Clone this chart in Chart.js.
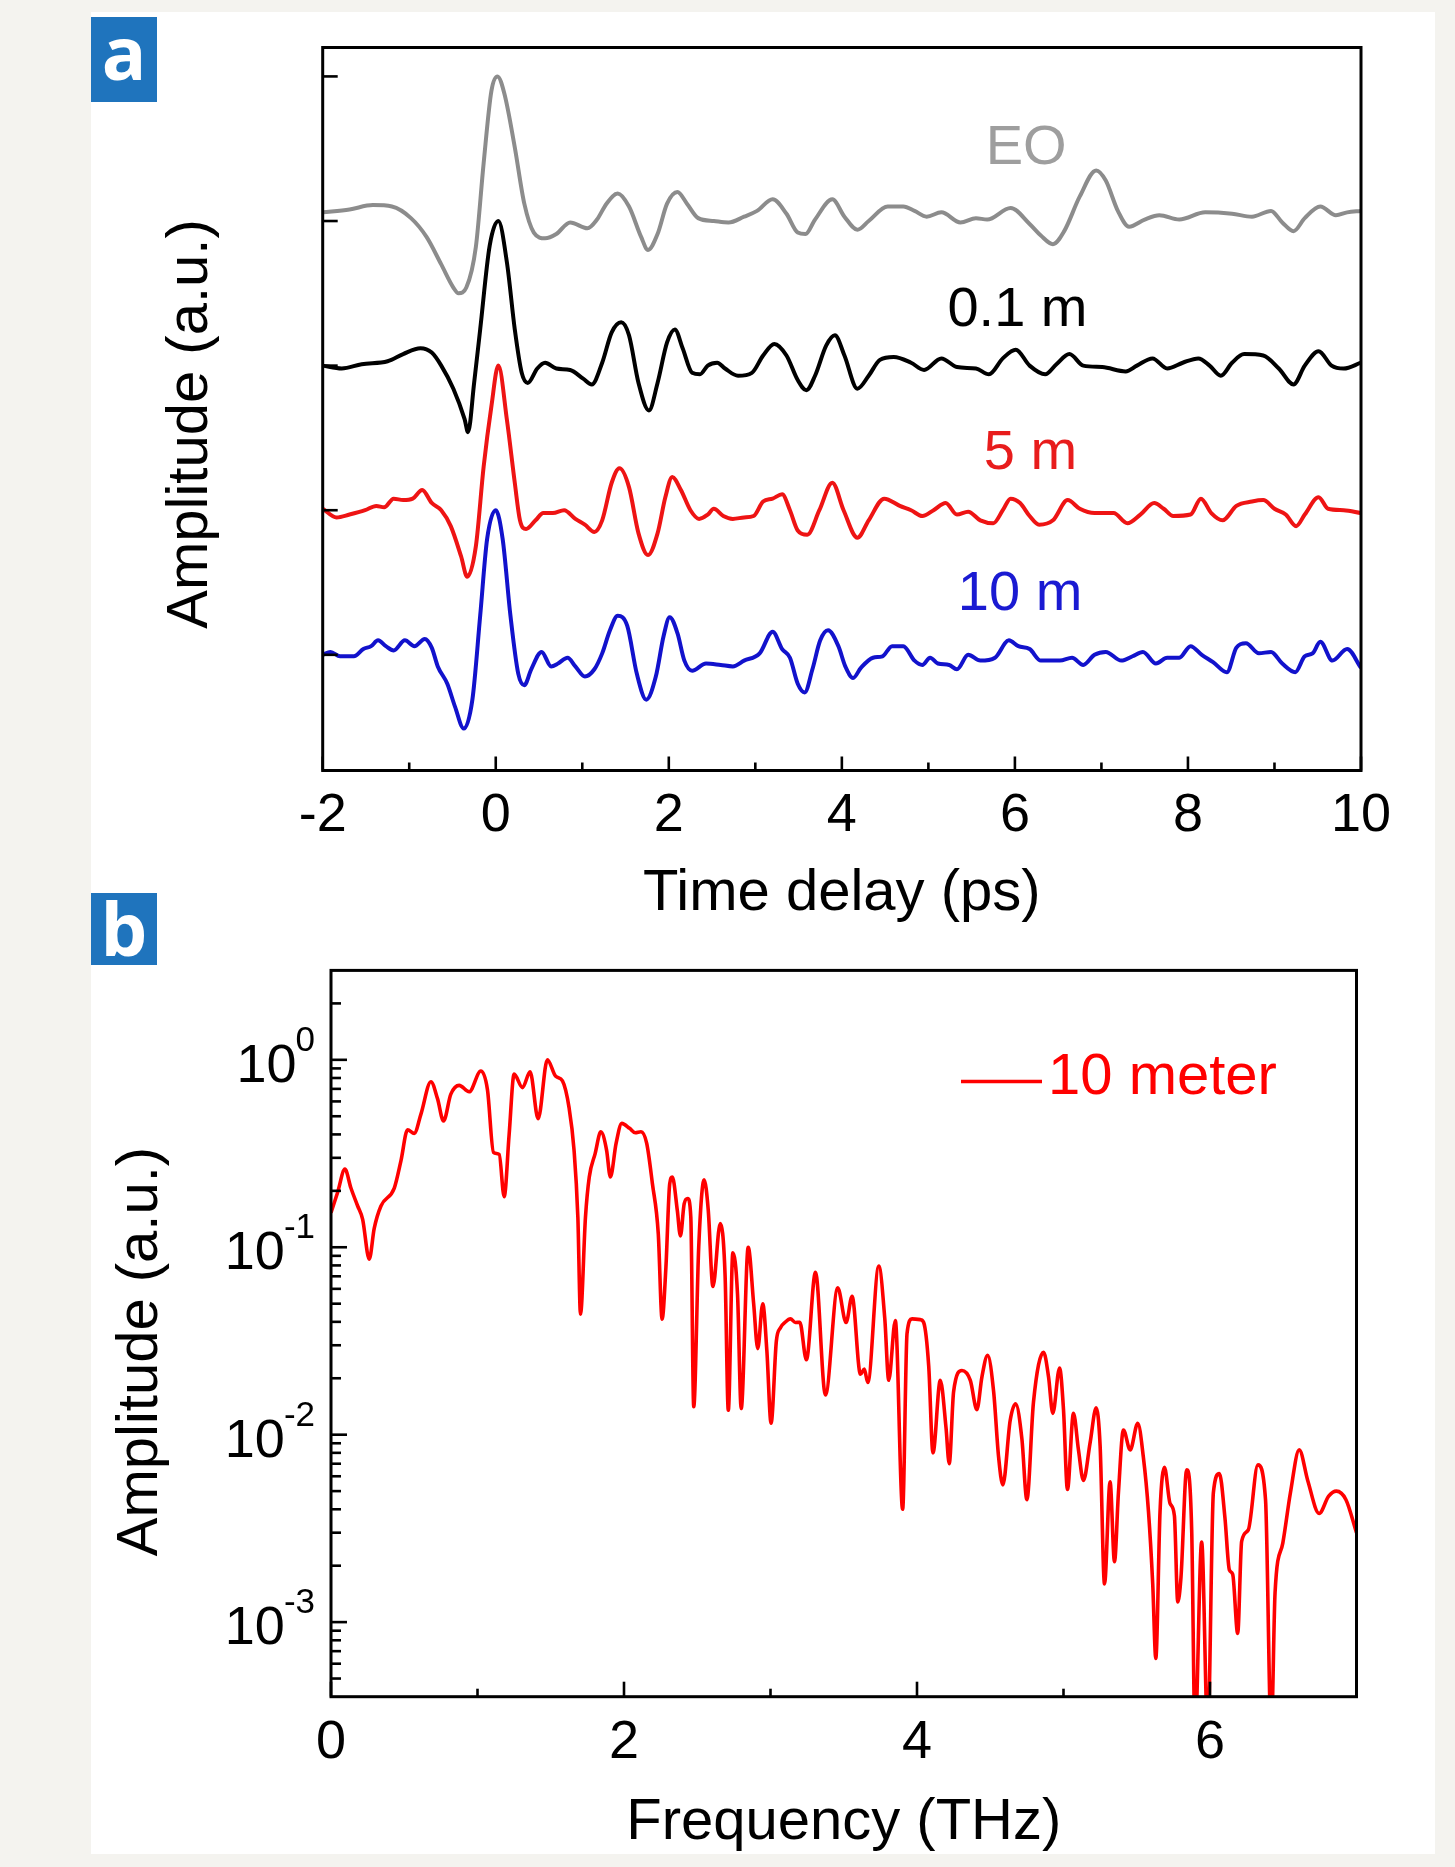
<!DOCTYPE html>
<html>
<head>
<meta charset="utf-8">
<script src="https://cdn.jsdelivr.net/npm/chart.js@4.4.1/dist/chart.umd.min.js"></script>
<style>
  html, body { margin: 0; padding: 0; background: #f4f3ef; }
  body { width: 1455px; height: 1867px; position: relative; overflow: hidden; }
  #sheet { position: absolute; left: 91px; top: 12px; width: 1344px; height: 1842px; background: #fff; }
  .tag { position: absolute; left: 0; width: 66px; background: #1f74bd; color: #fff;
         font-family: "Open Sans", "Liberation Sans", sans-serif; font-weight: bold; font-size: 74px; text-align: center; }
  #tagA { top: 5px; height: 85px; line-height: 70px; }
  #tagB { top: 881px; height: 72px; line-height: 70px; }
  #boxA { position: absolute; left: 0; top: 0; width: 1344px; height: 930px; }
  #boxB { position: absolute; left: 0; top: 860px; width: 1344px; height: 982px; }
</style>
</head>
<body>
<div id="sheet">
  <div id="boxA"><canvas id="pulses"></canvas></div>
  <div id="boxB"><canvas id="spectrum"></canvas></div>
  <div class="tag" id="tagA">a</div>
  <div class="tag" id="tagB">b</div>
</div>
<script>
Chart.defaults.font.family = '"Liberation Sans", Arial, sans-serif';
Chart.defaults.color = '#000';

// tick labels
const timeTicks = [-2, 0, 2, 4, 6, 8, 10];
const freqTicks = [0, 2, 4, 6];
const ampDecades = [0, -1, -2, -3];

// time traces (ps, amplitude relative to each trace's own baseline)
const eoTime = [-2.00,-1.69,-1.42,-1.20,-0.98,-0.80,-0.63,-0.49,-0.43,-0.34,-0.23,-0.14,-0.05,0.02,0.10,0.22,0.33,0.44,0.57,0.70,
  0.86,1.06,1.17,1.28,1.41,1.54,1.68,1.76,1.87,1.98,2.10,2.21,2.34,2.52,2.69,2.87,3.02,3.20,3.36,3.49,
  3.58,3.69,3.89,4.03,4.18,4.31,4.53,4.71,4.84,4.98,5.15,5.37,5.55,5.68,5.95,6.17,6.30,6.44,6.57,6.75,
  6.94,7.05,7.19,7.32,7.50,7.67,7.90,8.20,8.51,8.74,8.96,9.09,9.22,9.35,9.53,9.71,9.84,10.00];
const eoAmp = [0.06,0.08,0.11,0.10,0.02,-0.11,-0.30,-0.46,-0.50,-0.46,-0.18,0.40,0.90,1.00,0.88,0.51,0.12,-0.08,-0.12,-0.09,
  -0.01,-0.05,0.01,0.12,0.19,0.10,-0.11,-0.20,-0.09,0.12,0.20,0.12,0.02,0.00,-0.01,0.03,0.07,0.15,0.05,-0.08,
  -0.09,0.01,0.15,0.03,-0.06,0.00,0.10,0.10,0.07,0.03,0.06,-0.01,0.02,0.01,0.09,-0.02,-0.10,-0.16,-0.07,0.17,
  0.35,0.28,0.07,-0.04,0.01,0.04,0.01,0.06,0.05,0.03,0.07,-0.01,-0.07,0.02,0.10,0.04,0.06,0.07];

const m01Time = [-2.00,-1.78,-1.55,-1.25,-1.07,-0.87,-0.74,-0.63,-0.49,-0.36,-0.32,-0.25,-0.18,-0.07,0.03,0.13,0.22,0.30,0.37,0.48,
  0.57,0.70,0.86,1.01,1.11,1.23,1.34,1.45,1.54,1.65,1.77,1.87,1.98,2.07,2.16,2.27,2.36,2.45,2.56,2.65,
  2.80,2.96,3.09,3.22,3.36,3.49,3.59,3.69,3.82,3.92,4.03,4.18,4.31,4.44,4.60,4.80,4.95,5.15,5.33,5.55,
  5.70,5.86,6.01,6.17,6.35,6.48,6.63,6.79,7.01,7.28,7.41,7.59,7.76,7.94,8.12,8.25,8.38,8.51,8.65,8.87,
  9.05,9.22,9.35,9.51,9.66,9.80,10.00];
const m01Amp = [0.00,-0.02,0.01,0.03,0.08,0.12,0.09,0.00,-0.16,-0.37,-0.46,-0.12,0.25,0.83,1.00,0.71,0.25,-0.05,-0.12,-0.02,
  0.02,-0.02,-0.03,-0.09,-0.13,0.02,0.23,0.30,0.21,-0.12,-0.31,-0.12,0.16,0.25,0.12,-0.05,-0.06,0.00,0.02,-0.02,
  -0.07,-0.05,0.07,0.15,0.07,-0.10,-0.17,-0.07,0.14,0.21,0.07,-0.16,-0.07,0.04,0.06,0.02,-0.03,0.05,-0.01,-0.02,
  -0.06,0.05,0.11,0.00,-0.06,0.01,0.08,0.00,-0.01,-0.04,0.00,0.05,-0.02,0.02,0.05,0.00,-0.07,0.02,0.08,0.07,
  -0.02,-0.13,0.00,0.10,0.00,-0.02,0.02];

const m5Time = [-2.00,-1.84,-1.69,-1.51,-1.38,-1.29,-1.18,-1.07,-0.96,-0.85,-0.74,-0.63,-0.52,-0.40,-0.33,-0.23,-0.14,-0.05,0.03,0.13,
  0.22,0.28,0.35,0.46,0.55,0.66,0.79,0.92,1.03,1.14,1.23,1.34,1.43,1.54,1.65,1.76,1.87,1.96,2.04,2.14,
  2.25,2.35,2.45,2.52,2.63,2.74,2.87,2.98,3.09,3.20,3.31,3.40,3.49,3.60,3.74,3.89,4.02,4.18,4.31,4.49,
  4.67,4.80,4.93,5.06,5.20,5.33,5.46,5.60,5.75,5.86,5.95,6.06,6.17,6.28,6.44,6.61,6.75,6.92,7.14,7.30,
  7.45,7.61,7.72,7.83,8.03,8.15,8.27,8.40,8.56,8.74,8.87,9.00,9.13,9.25,9.35,9.51,9.62,9.80,10.00];
const m5Amp = [0.01,-0.05,-0.03,0.00,0.03,0.02,0.08,0.07,0.08,0.14,0.05,0.00,-0.11,-0.32,-0.46,-0.25,0.30,0.72,1.00,0.62,
  0.19,-0.07,-0.13,-0.07,-0.02,-0.02,0.00,-0.06,-0.10,-0.15,-0.07,0.19,0.29,0.16,-0.16,-0.31,-0.16,0.09,0.23,0.14,
  0.00,-0.06,-0.03,0.01,-0.04,-0.06,-0.05,-0.04,0.06,0.08,0.11,0.00,-0.14,-0.17,0.00,0.19,0.00,-0.19,-0.07,0.08,
  0.03,0.00,-0.04,0.00,0.05,-0.03,-0.01,-0.07,-0.09,0.00,0.08,0.05,-0.04,-0.10,-0.07,0.07,0.01,-0.02,-0.02,-0.09,
  -0.03,0.05,0.01,-0.04,-0.03,0.08,-0.02,-0.07,0.03,0.06,0.07,0.01,-0.03,-0.11,-0.03,0.09,0.01,0.00,-0.02];

const m10Time = [-2.00,-1.91,-1.80,-1.64,-1.53,-1.44,-1.36,-1.27,-1.18,-1.05,-0.94,-0.82,-0.74,-0.67,-0.56,-0.47,-0.37,-0.27,-0.18,-0.10,
  0.00,0.08,0.17,0.26,0.33,0.41,0.53,0.64,0.72,0.83,0.92,1.03,1.14,1.23,1.32,1.41,1.52,1.63,1.74,1.85,
  1.94,2.01,2.10,2.18,2.27,2.43,2.60,2.74,2.87,3.05,3.20,3.31,3.40,3.49,3.57,3.66,3.75,3.84,3.96,4.04,
  4.13,4.22,4.36,4.47,4.58,4.71,4.84,4.93,5.02,5.11,5.24,5.33,5.46,5.60,5.77,5.93,6.04,6.17,6.30,6.52,
  6.66,6.79,6.92,7.05,7.23,7.36,7.48,7.63,7.76,7.90,8.03,8.16,8.29,8.45,8.56,8.67,8.82,8.96,9.09,9.24,
  9.35,9.44,9.53,9.67,9.84,10.00];
const m10Amp = [0.00,0.02,-0.01,-0.01,0.04,0.06,0.10,0.06,0.03,0.10,0.06,0.11,0.05,-0.08,-0.20,-0.36,-0.51,-0.31,0.27,0.80,
  1.00,0.80,0.27,-0.13,-0.21,-0.10,0.02,-0.08,-0.06,-0.02,-0.08,-0.15,-0.10,0.01,0.17,0.27,0.20,-0.13,-0.31,-0.15,
  0.13,0.26,0.15,-0.04,-0.11,-0.06,-0.07,-0.08,-0.04,0.01,0.16,0.04,-0.02,-0.20,-0.26,-0.10,0.10,0.17,0.06,-0.08,
  -0.16,-0.09,-0.02,-0.01,0.06,0.06,-0.04,-0.07,-0.02,-0.06,-0.07,-0.10,0.00,-0.04,-0.02,0.10,0.06,0.04,-0.04,-0.04,
  -0.02,-0.07,0.00,0.02,-0.04,-0.01,0.02,-0.06,-0.02,-0.02,0.06,0.00,-0.05,-0.12,0.05,0.08,0.01,0.02,-0.06,-0.12,
  -0.01,0.01,0.09,-0.04,0.04,-0.09];

// spectrum of the 10 m pulse (THz, a.u.)
const freqTHz = [0.000,0.045,0.095,0.136,0.182,0.216,0.261,0.295,0.341,0.432,0.477,0.523,0.568,0.614,0.682,0.727,0.768,0.818,0.875,0.943,
  1.023,1.068,1.109,1.148,1.182,1.216,1.250,1.307,1.359,1.414,1.477,1.534,1.580,1.625,1.659,1.685,1.703,1.737,1.763,1.803,
  1.842,1.881,1.907,1.946,1.985,2.038,2.077,2.116,2.155,2.194,2.234,2.260,2.286,2.312,2.330,2.364,2.385,2.411,2.435,2.456,
  2.476,2.510,2.547,2.575,2.607,2.657,2.690,2.712,2.743,2.775,2.800,2.848,2.885,2.913,2.947,2.975,3.004,3.040,3.068,3.100,
  3.136,3.170,3.200,3.245,3.307,3.375,3.459,3.516,3.557,3.614,3.640,3.664,3.739,3.780,3.807,3.852,3.902,3.932,3.966,4.023,
  4.045,4.080,4.109,4.159,4.198,4.220,4.250,4.307,4.364,4.409,4.443,4.482,4.523,4.557,4.586,4.636,4.673,4.716,4.750,4.795,
  4.864,4.898,4.927,4.973,5.000,5.027,5.068,5.102,5.136,5.182,5.223,5.250,5.280,5.318,5.348,5.375,5.409,5.455,5.507,5.545,
  5.580,5.609,5.630,5.659,5.689,5.727,5.757,5.780,5.802,5.841,5.875,5.898,5.943,5.985,6.023,6.064,6.102,6.132,6.155,6.189,
  6.216,6.261,6.327,6.379,6.418,6.444,6.497,6.549,6.609,6.667,6.745,6.810,6.863,6.928,7.000];
const specAmp = [0.153,0.196,0.261,0.207,0.166,0.141,0.0863,0.126,0.166,0.207,0.288,0.423,0.405,0.513,0.764,0.621,0.472,0.656,0.731,0.675,
  0.871,0.692,0.321,0.313,0.186,0.400,0.839,0.711,0.863,0.485,1.000,0.817,0.773,0.556,0.330,0.145,0.044,0.145,0.237,0.316,
  0.413,0.330,0.237,0.358,0.458,0.431,0.408,0.413,0.358,0.218,0.118,0.0413,0.078,0.218,0.237,0.157,0.115,0.171,0.182,0.145,
  0.0141,0.100,0.229,0.158,0.0617,0.134,0.0708,0.0135,0.0933,0.056,0.0138,0.100,0.050,0.0288,0.050,0.0282,0.0115,0.0316,0.0372,0.0398,
  0.0415,0.0397,0.0398,0.0251,0.0735,0.0163,0.0607,0.0397,0.0547,0.0210,0.0224,0.0190,0.0793,0.0417,0.0195,0.0406,0.0040,0.0347,0.0415,0.0411,
  0.0398,0.0232,0.0080,0.0195,0.0109,0.0070,0.0170,0.0220,0.0195,0.0136,0.0203,0.0265,0.0170,0.0076,0.0054,0.0119,0.0146,0.0095,0.0045,0.0149,
  0.0275,0.0203,0.0130,0.0227,0.0136,0.0051,0.0130,0.0083,0.0057,0.0091,0.0139,0.0087,0.0016,0.0056,0.0021,0.0049,0.0106,0.0083,0.0115,0.0076,
  0.0039,0.0016,0.00064,0.0039,0.0067,0.0043,0.0037,0.00128,0.00174,0.0065,0.0031,0.00025,0.00267,0.00025,0.0049,0.0062,0.0036,0.0019,0.0018,0.00087,
  0.0027,0.0031,0.0069,0.0045,0.00025,0.00143,0.00264,0.0049,0.0083,0.0057,0.0038,0.0047,0.0050,0.0045,0.0030];

const traces = [
  { name: 'EO',    t: eoTime,  a: eoAmp,  offset: 3, line: '#8c8c8c', ink: '#9e9e9e', lx: 6.13, ly: 3.50 },
  { name: '0.1 m', t: m01Time, a: m01Amp, offset: 2, line: '#000000', ink: '#000000', lx: 6.03, ly: 2.38 },
  { name: '5 m',   t: m5Time,  a: m5Amp,  offset: 1, line: '#ee1414', ink: '#e81c1c', lx: 6.18, ly: 1.39 },
  { name: '10 m',  t: m10Time, a: m10Amp, offset: 0, line: '#1212cc', ink: '#1a1ad2', lx: 6.06, ly: 0.42 }
];

// box + inward ticks + rotated y title
const frame = {
  id: 'frame',
  afterDatasetsDraw(chart, args, o) {
    const { ctx, chartArea: a, scales: { x, y } } = chart;
    ctx.save();
    ctx.strokeStyle = '#000';
    ctx.lineWidth = 2.6;
    const seg = (x1, y1, x2, y2) => { ctx.beginPath(); ctx.moveTo(x1, y1); ctx.lineTo(x2, y2); ctx.stroke(); };
    o.xMajor.forEach(v => { const p = x.getPixelForValue(v); seg(p, a.bottom, p, a.bottom - o.xLen[0]); });
    o.xMinor.forEach(v => { const p = x.getPixelForValue(v); seg(p, a.bottom, p, a.bottom - o.xLen[1]); });
    o.yMajor.forEach(v => { const p = y.getPixelForValue(v); seg(a.left, p, a.left + o.yLen[0], p); });
    o.yMinor.forEach(v => { const p = y.getPixelForValue(v); seg(a.left, p, a.left + o.yLen[1], p); });
    ctx.lineWidth = 3;
    ctx.strokeRect(a.left, a.top, a.right - a.left, a.bottom - a.top);

    ctx.translate(o.yTitleX, (a.top + a.bottom) / 2 + o.yTitleShift);
    ctx.rotate(-Math.PI / 2);
    ctx.fillStyle = '#000';
    ctx.font = '58px "Liberation Sans", Arial, sans-serif';
    ctx.textAlign = 'center';
    ctx.textBaseline = 'middle';
    ctx.fillText(o.yTitle, 0, 0);
    ctx.restore();
  }
};

const traceLabels = {
  id: 'traceLabels',
  afterDatasetsDraw(chart) {
    const { ctx, scales: { x, y } } = chart;
    ctx.save();
    ctx.font = '56px "Liberation Sans", Arial, sans-serif';
    ctx.textAlign = 'center';
    ctx.textBaseline = 'middle';
    traces.forEach(tr => {
      ctx.fillStyle = tr.ink;
      ctx.fillText(tr.name, x.getPixelForValue(tr.lx), y.getPixelForValue(tr.ly));
    });
    ctx.restore();
  }
};

new Chart(document.getElementById('pulses'), {
  type: 'line',
  data: {
    datasets: traces.map(tr => ({
      label: tr.name,
      data: tr.t.map((t, i) => ({ x: t, y: tr.a[i] + tr.offset })),
      borderColor: tr.line,
      borderWidth: 4,
      pointRadius: 0,
      cubicInterpolationMode: 'monotone',
      fill: false
    }))
  },
  options: {
    responsive: true,
    maintainAspectRatio: false,
    animation: false,
    events: [],
    layout: { padding: { top: 35.5, right: 74, bottom: 0, left: 0 } },
    plugins: {
      legend: { display: false },
      tooltip: { enabled: false },
      frame: {
        xMajor: timeTicks, xMinor: [-1, 1, 3, 5, 7, 9], xLen: [14, 8],
        yMajor: [0, 1, 2, 3, 4], yMinor: [], yLen: [15, 8],
        yTitle: 'Amplitude (a.u.)', yTitleX: 99.5, yTitleShift: 15
      }
    },
    scales: {
      x: {
        type: 'linear', min: -2, max: 10,
        grid: { display: false }, border: { display: false },
        afterBuildTicks: s => { s.ticks = timeTicks.map(v => ({ value: v })); },
        ticks: { font: { size: 54 }, color: '#000', padding: 5, maxRotation: 0, autoSkip: false },
        title: { display: true, text: 'Time delay (ps)', font: { size: 58 }, color: '#000', padding: { top: 0, bottom: 13 } },
        afterFit: s => { s.height = 171.5; }
      },
      y: {
        type: 'linear', min: -0.8, max: 4.2,
        grid: { display: false }, border: { display: false },
        ticks: { display: false },
        afterFit: s => { s.width = 231.7; }
      }
    }
  },
  plugins: [frame, traceLabels]
});

// log tick labels with superscripts, and the in-plot legend
const specText = {
  id: 'specText',
  afterDraw(chart) {
    const { ctx, chartArea: a, scales: { y } } = chart;
    ctx.save();
    ctx.fillStyle = '#000';
    ampDecades.forEach(e => {
      const py = y.getPixelForValue(Math.pow(10, e));
      const sup = String(e);
      const right = a.left - 16;
      ctx.textAlign = 'right';
      ctx.textBaseline = 'alphabetic';
      ctx.font = '35px "Liberation Sans", Arial, sans-serif';
      ctx.fillText(sup, right, py - 9);
      const w = ctx.measureText(sup).width;
      ctx.font = '54px "Liberation Sans", Arial, sans-serif';
      ctx.fillText('10', right - w + 1, py + 22);
    });
    const ds = chart.data.datasets[0];
    ctx.strokeStyle = ds.borderColor;
    ctx.lineWidth = 3.5;
    ctx.beginPath();
    ctx.moveTo(a.left + 630, a.top + 111);
    ctx.lineTo(a.left + 711, a.top + 111);
    ctx.stroke();
    ctx.fillStyle = ds.borderColor;
    ctx.textAlign = 'left';
    ctx.textBaseline = 'middle';
    ctx.font = '58px "Liberation Sans", Arial, sans-serif';
    ctx.fillText(ds.label, a.left + 717, a.top + 108);
    ctx.restore();
  }
};

const minorLog = [];
for (let e = -4; e <= 0; e++) {
  for (let k = 2; k <= 9; k++) {
    const v = k * Math.pow(10, e);
    if (v > 4e-4 && v < 3) minorLog.push(v);
  }
}

new Chart(document.getElementById('spectrum'), {
  type: 'line',
  data: {
    datasets: [{
      label: '10 meter',
      data: freqTHz.map((f, i) => ({ x: f, y: specAmp[i] })),
      borderColor: '#ff0000',
      borderWidth: 3.6,
      pointRadius: 0,
      cubicInterpolationMode: 'monotone',
      fill: false
    }]
  },
  options: {
    responsive: true,
    maintainAspectRatio: false,
    animation: false,
    events: [],
    layout: { padding: { top: 98.4, right: 78.5, bottom: 0, left: 0 } },
    plugins: {
      legend: { display: false },
      tooltip: { enabled: false },
      frame: {
        xMajor: freqTicks, xMinor: [1, 3, 5], xLen: [15, 8],
        yMajor: ampDecades.map(e => Math.pow(10, e)), yMinor: minorLog, yLen: [16, 10],
        yTitle: 'Amplitude (a.u.)', yTitleX: 49.5, yTitleShift: 18
      }
    },
    scales: {
      x: {
        type: 'linear', min: 0, max: 7,
        grid: { display: false }, border: { display: false },
        afterBuildTicks: s => { s.ticks = freqTicks.map(v => ({ value: v })); },
        ticks: { font: { size: 54 }, color: '#000', padding: 6, maxRotation: 0, autoSkip: false },
        title: { display: true, text: 'Frequency (THz)', font: { size: 58 }, color: '#000', padding: { top: 0, bottom: -3.5 } },
        afterFit: s => { s.height = 157.3; }
      },
      y: {
        type: 'logarithmic', min: 4e-4, max: 3,
        grid: { display: false }, border: { display: false },
        ticks: { display: false },
        afterFit: s => { s.width = 240; }
      }
    }
  },
  plugins: [frame, specText]
});
</script>
</body>
</html>
